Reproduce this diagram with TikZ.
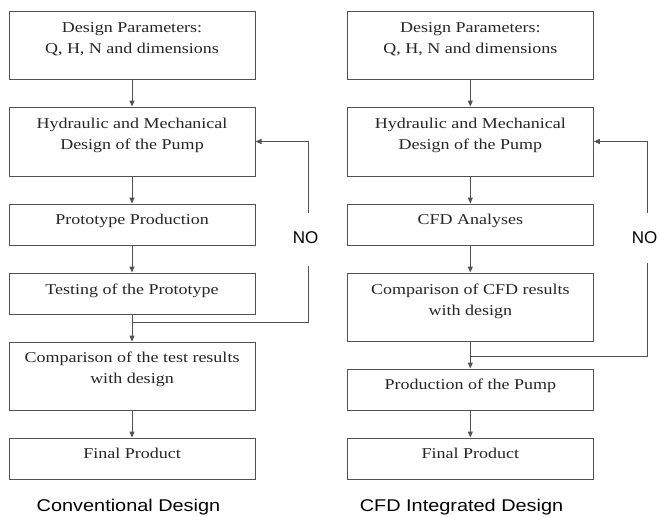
\documentclass[tikz,border=0pt]{standalone}
\usepackage{fontspec}
\setmainfont{Liberation Serif}[FakeStretch=1.2]
\newfontfamily\titlefont{Liberation Sans}[FakeStretch=1.17]
\newfontfamily\nofont{Liberation Sans}
\usetikzlibrary{arrows.meta}
\definecolor{lin}{gray}{0.32}
\definecolor{txtc}{gray}{0.15}
\tikzset{
  box/.style={draw=lin, line width=1pt, minimum width=246pt, inner sep=0pt},
  txt/.style={font=\fontsize{15}{21}\selectfont, align=center, anchor=north, inner sep=0pt, text=txtc},
  arr/.style={draw=lin, line width=1pt, -{Triangle[length=6pt,width=5pt]}},
  ln/.style={draw=lin, line width=1pt},
  ttl/.style={font=\titlefont\fontsize{17}{20}\selectfont, text=black, inner sep=0pt},
  nolab/.style={font=\nofont\fontsize{17}{20}\selectfont, text=black, inner sep=0pt}
}
\begin{document}
\begin{tikzpicture}[x=1pt,y=-1pt]
\useasboundingbox (0,0) rectangle (659,517);
% left column
\node[box, minimum height=68pt] (a1) at (132,45) {};
\node[box, minimum height=69pt] (a2) at (132,141.5) {};
\node[box, minimum height=41pt] (a3) at (132,224.5) {};
\node[box, minimum height=41pt] (a4) at (132,293.5) {};
\node[box, minimum height=68pt] (a5) at (132,376) {};
\node[box, minimum height=41pt] (a6) at (132,458.5) {};
\node[txt] (a1t) at ([yshift=-12pt]a1.north) {Design Parameters:\\Q, H, N and dimensions};
\node[txt] (a2t) at ([yshift=-11pt]a2.north) {Hydraulic and Mechanical\\Design of the Pump};
\node[txt] (a3t) at ([yshift=-10pt]a3.north) {Prototype Production};
\node[txt] (a4t) at ([yshift=-11pt]a4.north) {Testing of the Prototype};
\node[txt] (a5t) at ([yshift=-10pt]a5.north) {Comparison of the test results\\with design};
\node[txt] (a6t) at ([yshift=-10pt]a6.north) {Final Product};
\draw[arr] (a1) -- (a2);
\draw[arr] (a2) -- (a3);
\draw[arr] (a3) -- (a4);
\draw[arr] (a4) -- (a5);
\draw[arr] (a5) -- (a6);
\coordinate (j1) at (132,322);
\coordinate (c1) at (308,213);
\coordinate (c2) at (308,266);
\draw[ln] (j1) -| (c2);
\draw[arr] (c1) |- (a2.east);
\node[nolab] (no1) at (305.5,237.5) {NO};
\node[ttl] (t1) at (128.5,507.5) {Conventional Design};
% right column
\node[box, minimum height=68pt] (b1) at (470.3,45) {};
\node[box, minimum height=69pt] (b2) at (470.3,141.5) {};
\node[box, minimum height=41pt] (b3) at (470.3,224.5) {};
\node[box, minimum height=68pt] (b4) at (470.3,307) {};
\node[box, minimum height=41pt] (b5) at (470.3,389.5) {};
\node[box, minimum height=41pt] (b6) at (470.3,458.5) {};
\node[txt] (b1t) at ([yshift=-12pt]b1.north) {Design Parameters:\\Q, H, N and dimensions};
\node[txt] (b2t) at ([yshift=-11pt]b2.north) {Hydraulic and Mechanical\\Design of the Pump};
\node[txt] (b3t) at ([yshift=-10pt]b3.north) {CFD Analyses};
\node[txt] (b4t) at ([yshift=-11pt]b4.north) {Comparison of CFD results\\with design};
\node[txt] (b5t) at ([yshift=-10pt]b5.north) {Production of the Pump};
\node[txt] (b6t) at ([yshift=-10pt]b6.north) {Final Product};
\draw[arr] (b1) -- (b2);
\draw[arr] (b2) -- (b3);
\draw[arr] (b3) -- (b4);
\draw[arr] (b4) -- (b5);
\draw[arr] (b5) -- (b6);
\coordinate (j2) at (470.3,356);
\coordinate (d1) at (647.3,213);
\coordinate (d2) at (647.3,263);
\draw[ln] (j2) -| (d2);
\draw[arr] (d1) |- (b2.east);
\node[nolab] (no2) at (644.5,237.5) {NO};
\node[ttl] (t2) at (461.5,507.5) {CFD Integrated Design};
\end{tikzpicture}
\end{document}
